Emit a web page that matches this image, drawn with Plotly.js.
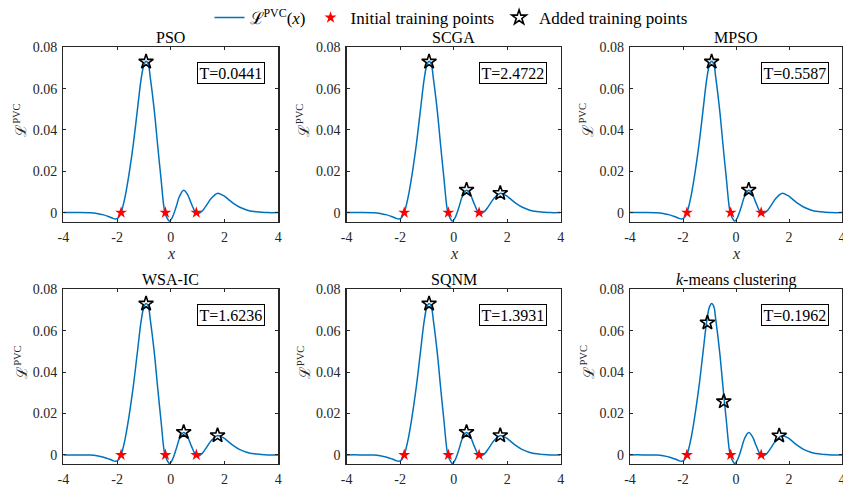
<!DOCTYPE html>
<html>
<head>
<meta charset="utf-8">
<script src="https://cdn.plot.ly/plotly-3.0.1.min.js"></script>
<style>html,body{margin:0;padding:0;background:#fff;}#chart{width:843px;height:484px;}</style>
</head>
<body>
<div id="chart"></div>
<script>
// Surrogate curve L^PVC(x) (same in every panel)
const curveX = [-4, -3.5, -3.0, -2.75, -2.5, -2.3, -2.15, -2.05, -1.95, -1.85, -1.72, -1.58, -1.40, -1.25, -1.10, -1.00, -0.92, -0.84, -0.76, -0.61, -0.49, -0.365, -0.22, -0.13, -0.05, 0.05, 0.20, 0.32, 0.48, 0.62, 0.76, 0.88, 0.95, 1.02, 1.15, 1.30, 1.50, 1.73, 1.95, 2.15, 2.33, 2.55, 2.82, 3.10, 3.35, 3.60, 4.0];
const curveY = [0, 0, -0.0001, -0.0004, -0.0011, -0.002, -0.0028, -0.0031, -0.0025, 0, 0.0065, 0.0166, 0.0327, 0.0489, 0.065, 0.0715, 0.0732, 0.0718, 0.065, 0.0489, 0.0327, 0.0166, 0, -0.0028, -0.0042, -0.0025, 0.0028, 0.0078, 0.0108, 0.0088, 0.0045, 0.001, 0, -0.0006, 0.0005, 0.003, 0.0068, 0.0093, 0.0083, 0.0063, 0.0045, 0.0027, 0.0013, 0.0005, 0.0002, 0, 0];

// Initial training points (same in every panel)
const initX = [-1.85, -0.2, 0.95];
const initY = [0, 0, 0];

// Panels
const methods = ['PSO', 'SCGA', 'MPSO', 'WSA-IC', 'SQNM', '<i>k</i>-means clustering'];
const times = ['0.0441', '2.4722', '0.5587', '1.6236', '1.3931', '0.1962'];

// Added training points per method
const addedX_PSO = [-0.92];
const addedY_PSO = [0.073];
const addedX_SCGA = [-0.92, 0.48, 1.74];
const addedY_SCGA = [0.073, 0.011, 0.0094];
const addedX_MPSO = [-0.92, 0.48];
const addedY_MPSO = [0.073, 0.011];
const addedX_WSAIC = [-0.92, 0.48, 1.74];
const addedY_WSAIC = [0.073, 0.011, 0.0094];
const addedX_SQNM = [-0.92, 0.48, 1.74];
const addedY_SQNM = [0.073, 0.011, 0.0094];
const addedX_KM = [-1.08, -0.46, 1.63];
const addedY_KM = [0.0639, 0.0258, 0.0093];

const addedX = [addedX_PSO, addedX_SCGA, addedX_MPSO, addedX_WSAIC, addedX_SQNM, addedX_KM];
const addedY = [addedY_PSO, addedY_SCGA, addedY_MPSO, addedY_WSAIC, addedY_SQNM, addedY_KM];

const W = 843, H = 484;
const FONT = 'Liberation Serif';
const colDom = [[63.3/W, 278.3/W], [346.7/W, 560.7/W], [630/W, 842/W]];
const rowDom = [[1 - 221.7/H, 1 - 47.3/H], [1 - 464/H, 1 - 289.3/H]];

const traces = [];
const layout = {
  width: W, height: H,
  margin: {l: 0, r: 0, t: 0, b: 0},
  paper_bgcolor: '#fff', plot_bgcolor: '#fff',
  font: {family: FONT, size: 13, color: '#262626'},
  showlegend: true,
  legend: {orientation: 'h', x: 451 / W, xanchor: 'center', y: 1, yanchor: 'top',
           font: {family: FONT, size: 17, color: '#000'}, bgcolor: 'rgba(0,0,0,0)',
           itemwidth: 30, tracegroupgap: 0},
  annotations: []
};

for (let i = 0; i < 6; i++) {
  const r = Math.floor(i / 3), c = i % 3;
  const s = i === 0 ? '' : String(i + 1);
  const xa = 'x' + s, ya = 'y' + s;
  traces.push({x: curveX, y: curveY, xaxis: xa, yaxis: ya, type: 'scatter', mode: 'lines',
    line: {color: '#0072BD', width: 1.5, shape: 'spline', smoothing: 1},
    name: '\u2112<sup>PVC</sup>(<i>x</i>)', showlegend: i === 0, legendgroup: 'c'});
  traces.push({x: initX, y: initY, xaxis: xa, yaxis: ya, type: 'scatter', mode: 'markers',
    marker: {symbol: 'star', size: 9, color: '#FF0000', line: {width: 0}},
    name: 'Initial training points', showlegend: i === 0, legendgroup: 'i'});
  traces.push({x: addedX[i], y: addedY[i], xaxis: xa, yaxis: ya, type: 'scatter', mode: 'markers',
    marker: {symbol: 'star-open', size: 11, color: '#000', line: {width: 1.6, color: '#000'}},
    name: 'Added training points', showlegend: i === 0, legendgroup: 'a'});

  const axCommon = {showline: true, mirror: 'ticks', linecolor: '#262626', linewidth: 1.3,
    ticks: 'inside', ticklen: 3, tickwidth: 1, tickcolor: '#262626', showgrid: false, zeroline: false,
    tickfont: {family: FONT, size: 14, color: '#262626'}, ticklabelstandoff: 2,
    ticklabeloverflow: 'allow', fixedrange: true};
  layout['xaxis' + s] = Object.assign({}, axCommon, {domain: colDom[c], anchor: ya, range: [-4, 4],
    tickvals: [-4, -2, 0, 2, 4], ticktext: ['-4', '-2', '0', '2', '4']});
  layout['yaxis' + s] = Object.assign({}, axCommon, {domain: rowDom[r], anchor: xa, range: [-0.0044, 0.08],
    tickvals: [0, 0.02, 0.04, 0.06, 0.08], ticktext: ['0', '0.02', '0.04', '0.06', '0.08']});

  const cx = (colDom[c][0] + colDom[c][1]) / 2;
  // subplot title
  layout.annotations.push({xref: 'paper', yref: 'paper', x: cx, y: rowDom[r][1], xanchor: 'center', yanchor: 'middle',
    yshift: 9.5, showarrow: false, text: methods[i], font: {family: FONT, size: 16, color: '#000'}});
  // y label
  layout.annotations.push({xref: 'paper', yref: 'paper', x: colDom[c][0], xshift: -43, y: rowDom[r][1],
    yshift: -(120.5 - 47.3), xanchor: 'center', yanchor: 'middle', textangle: -90, showarrow: false,
    text: '\u2112<sup>PVC</sup>', font: {family: FONT, size: 15, color: '#262626'}});
  // x label
  layout.annotations.push({xref: 'paper', yref: 'paper', x: cx, y: rowDom[r][0], yshift: -(254 - 221.7),
    xanchor: 'center', yanchor: 'middle', showarrow: false, text: '<i>x</i>',
    font: {family: FONT, size: 16, color: '#262626'}});
  // time box
  layout.annotations.push({xref: xa, yref: ya, x: 3.5, y: 0.0727, xanchor: 'right', yanchor: 'top',
    showarrow: false, text: 'T=' + times[i], bordercolor: '#000', borderwidth: 1, borderpad: 1.5,
    bgcolor: '#fff', font: {family: FONT, size: 16, color: '#000'}});
}

Plotly.newPlot('chart', traces, layout, {displayModeBar: false, staticPlot: true});
</script>
</body>
</html>
